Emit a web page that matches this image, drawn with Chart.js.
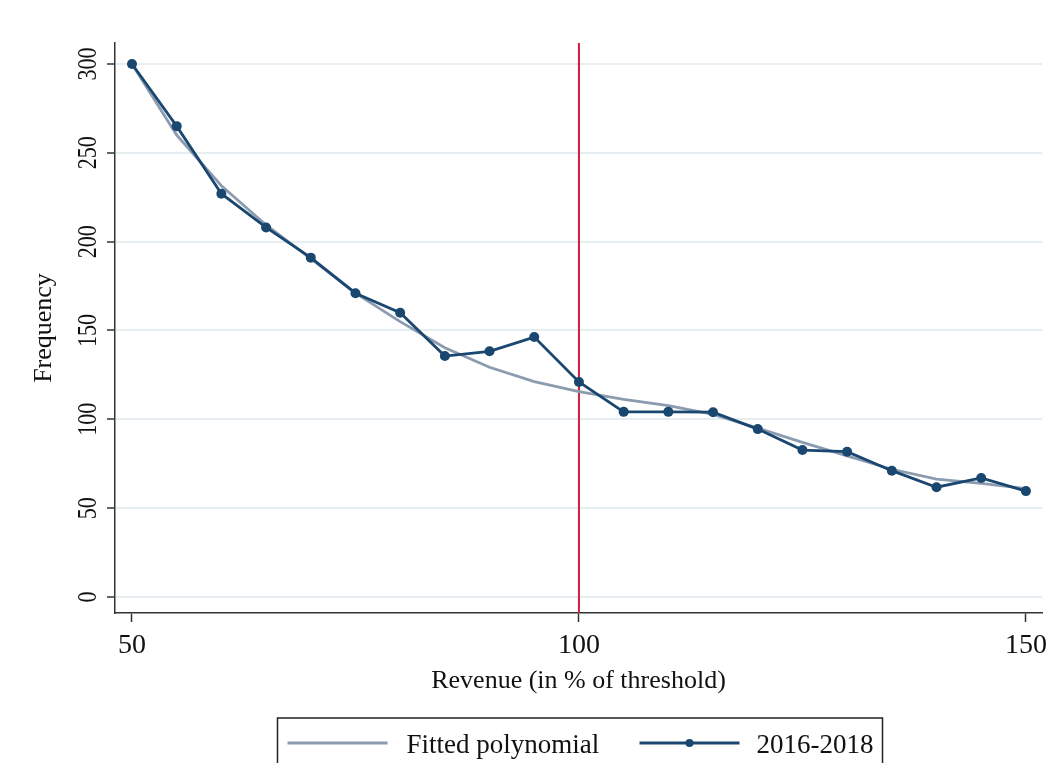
<!DOCTYPE html>
<html>
<head>
<meta charset="utf-8">
<script src="https://cdn.jsdelivr.net/npm/chart.js@4.4.1/dist/chart.umd.min.js"></script>
<style>
  html, body { margin: 0; padding: 0; background: #fff; }
  #wrap { width: 1057px; height: 763px; }
</style>
</head>
<body>
<div id="wrap"><canvas id="freqChart"></canvas></div>
<script>
// Revenue bins (in % of threshold) and counts
const revenue = [50, 55, 60, 65, 70, 75, 80, 85, 90, 95, 100, 105, 110, 115, 120, 125, 130, 135, 140, 145, 150];
const frequency = [300, 265, 227, 208, 191, 171, 160, 135.6, 138.3, 146.3, 121, 104.2, 104.2, 104, 94.5, 82.7, 81.8, 71.1, 61.8, 67, 59.6];
const fitted = [300, 260, 231.5, 209.4, 190.5, 171, 155, 140.3, 129.3, 121.2, 115.6, 111.2, 107.7, 102.8, 95, 87, 79.4, 71.9, 66.4, 64, 61];
const threshold = 100;
const xTicks = [50, 100, 150];
const yTicks = [0, 50, 100, 150, 200, 250, 300];
const seriesNames = ["Fitted polynomial", "2016-2018"];

const navy = "#1a476f";
const steel = "#8b9bb0";
const serif = "'Liberation Serif', 'Times New Roman', serif";

const toPoints = vals => revenue.map((x, i) => ({ x: x, y: vals[i] }));

// red line at the threshold, under the series
const thresholdLine = {
    id: "thresholdLine",
    beforeDatasetsDraw(chart) {
        const { ctx, chartArea, scales } = chart;
        const px = scales.x.getPixelForValue(threshold);
        ctx.save();
        ctx.strokeStyle = "#cc1f40";
        ctx.lineWidth = 2;
        ctx.beginPath();
        ctx.moveTo(px, chartArea.top);
        ctx.lineTo(px, chartArea.bottom);
        ctx.stroke();
        ctx.restore();
    }
};

// vertical y tick labels and the boxed legend
const extras = {
    id: "extras",
    afterDraw(chart) {
        const { ctx, chartArea, scales } = chart;
        ctx.save();
        ctx.fillStyle = "#111";
        ctx.font = "22px " + serif;
        ctx.textAlign = "center";
        ctx.textBaseline = "middle";
        yTicks.forEach(v => {
            ctx.save();
            ctx.translate(chartArea.left - 26, scales.y.getPixelForValue(v));
            ctx.rotate(-Math.PI / 2);
            ctx.scale(1, 1.2);
            ctx.fillText(String(v), 0, 0);
            ctx.restore();
        });

        // legend
        const cx = (chartArea.left + chartArea.right) / 2;
        const boxL = cx - 301, boxR = cx + 304, boxT = 718;
        ctx.strokeStyle = "#222";
        ctx.lineWidth = 1.5;
        ctx.strokeRect(boxL, boxT, boxR - boxL, 80);

        const ly = 743;
        const ds = chart.data.datasets;
        ctx.font = "27px " + serif;
        ctx.textAlign = "left";
        ctx.textBaseline = "alphabetic";
        ctx.lineWidth = 2.8;

        ctx.strokeStyle = ds[0].borderColor;
        ctx.beginPath();
        ctx.moveTo(boxL + 10, ly);
        ctx.lineTo(boxL + 110, ly);
        ctx.stroke();
        ctx.fillText(ds[0].label, boxL + 129, 753);

        const s2 = boxL + 362;
        ctx.strokeStyle = ds[1].borderColor;
        ctx.beginPath();
        ctx.moveTo(s2, ly);
        ctx.lineTo(s2 + 100, ly);
        ctx.stroke();
        ctx.fillStyle = ds[1].pointBackgroundColor;
        ctx.beginPath();
        ctx.arc(s2 + 50, ly, 4, 0, Math.PI * 2);
        ctx.fill();
        ctx.fillStyle = "#111";
        ctx.fillText(ds[1].label, s2 + 117, 753);
        ctx.restore();
    }
};

const ctx = document.getElementById("freqChart").getContext("2d");
new Chart(ctx, {
    type: "line",
    data: {
        datasets: [
            {
                label: seriesNames[0],
                data: toPoints(fitted),
                borderColor: steel,
                borderWidth: 2.8,
                pointRadius: 0,
                tension: 0,
                order: 2
            },
            {
                label: seriesNames[1],
                data: toPoints(frequency),
                borderColor: navy,
                borderWidth: 2.8,
                pointRadius: 5,
                pointBackgroundColor: navy,
                pointBorderColor: navy,
                pointBorderWidth: 0,
                tension: 0,
                order: 1
            }
        ]
    },
    options: {
        responsive: true,
        maintainAspectRatio: false,
        animation: false,
        devicePixelRatio: 1,
        layout: { padding: { left: 0, right: 15, top: 43, bottom: 0 } },
        plugins: {
            legend: { display: false },
            tooltip: { enabled: false }
        },
        scales: {
            x: {
                type: "linear",
                min: 48.1,
                max: 151.8,
                afterBuildTicks: s => { s.ticks = xTicks.map(v => ({ value: v })); },
                afterFit: s => { s.height = 150; },
                grid: { drawOnChartArea: false, drawTicks: true, tickLength: 9, tickColor: "#333", tickWidth: 1.5 },
                border: { color: "#333", width: 1.5 },
                ticks: { color: "#111", font: { family: serif, size: 28 }, padding: 7, maxRotation: 0 },
                title: {
                    display: true,
                    text: "Revenue (in % of threshold)",
                    color: "#111",
                    font: { family: serif, size: 26 },
                    padding: { top: 0, bottom: 66 }
                }
            },
            y: {
                type: "linear",
                min: -9,
                max: 311.8,
                afterBuildTicks: s => { s.ticks = yTicks.map(v => ({ value: v })); },
                afterFit: s => { s.width = 115; },
                grid: { color: "#e6eef1", lineWidth: 2, drawTicks: true, tickLength: 8, tickColor: "#333", tickWidth: 1.5 },
                border: { color: "#333", width: 1.5 },
                ticks: { display: false },
                title: {
                    display: true,
                    text: "Frequency",
                    color: "#111",
                    font: { family: serif, size: 26 },
                    padding: { top: 29, bottom: 0 }
                }
            }
        }
    },
    plugins: [thresholdLine, extras]
});
</script>
</body>
</html>
